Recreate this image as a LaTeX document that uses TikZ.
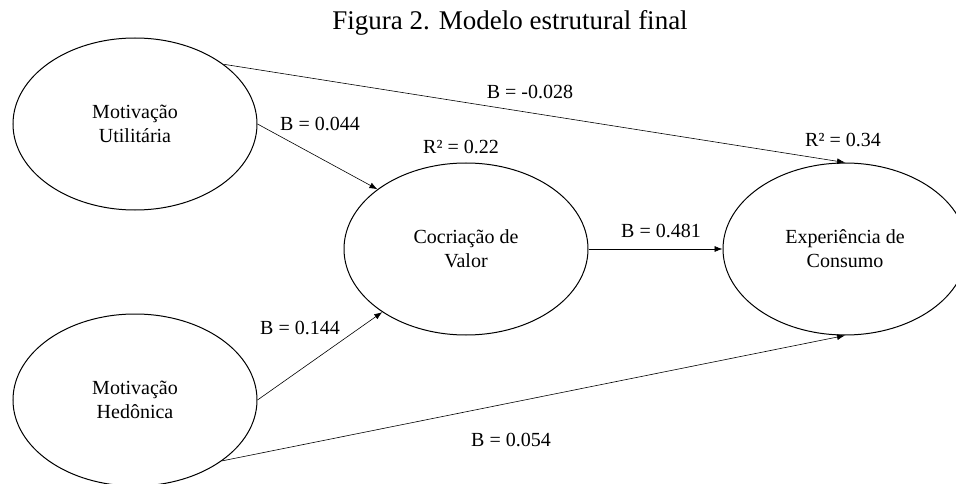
\documentclass[tikz,border=0pt]{standalone}
\usepackage{fontspec}
\setmainfont{Liberation Serif}
\usetikzlibrary{shapes.geometric, arrows.meta}

\begin{document}
\begin{tikzpicture}[x=1pt, y=-1pt,
    construct/.style={draw, ellipse, line width=1pt, minimum width=244pt, minimum height=172pt,
        inner sep=0pt, align=center, font=\fontsize{20}{24}\selectfont},
    coef/.style={font=\fontsize{20}{24}\selectfont},
    path/.style={-{Latex[length=8pt, width=6pt]}, line width=0.6pt}]
    \useasboundingbox (0, 0) rectangle (956, 484);
    \node (title) at (510, 23) {\fontsize{27}{32}\selectfont Figura 2. Modelo estrutural final};
    \node[construct] (mu) at (135, 124) {Motivação\\Utilitária};
    \node[construct] (mh) at (135, 400) {Motivação\\Hedônica};
    \node[construct] (cv) at (466, 249) {Cocriação de\\Valor};
    \node[construct] (ec) at (845, 249) {Experiência de\\Consumo};
    % path coefficients
    \node[coef] (b1) at (530, 92) {B = -0.028};
    \node[coef] (b2) at (320, 124) {B = 0.044};
    \node[coef] (b3) at (300, 328) {B = 0.144};
    \node[coef] (b4) at (661, 231) {B = 0.481};
    \node[coef] (b5) at (511, 440) {B = 0.054};
    \node[coef] (r1) at (461, 147) {R² = 0.22};
    \node[coef] (r2) at (843, 140) {R² = 0.34};
    \draw[path] (mu.34) -- (ec.north);
    \draw[path] (mu.east) -- (cv.146);
    \draw[path] (mh.east) -- (cv.217);
    \draw[path] (mh.-35) -- (ec.south);
    \draw[path] (cv.east) -- (ec.west);
\end{tikzpicture}
\end{document}
